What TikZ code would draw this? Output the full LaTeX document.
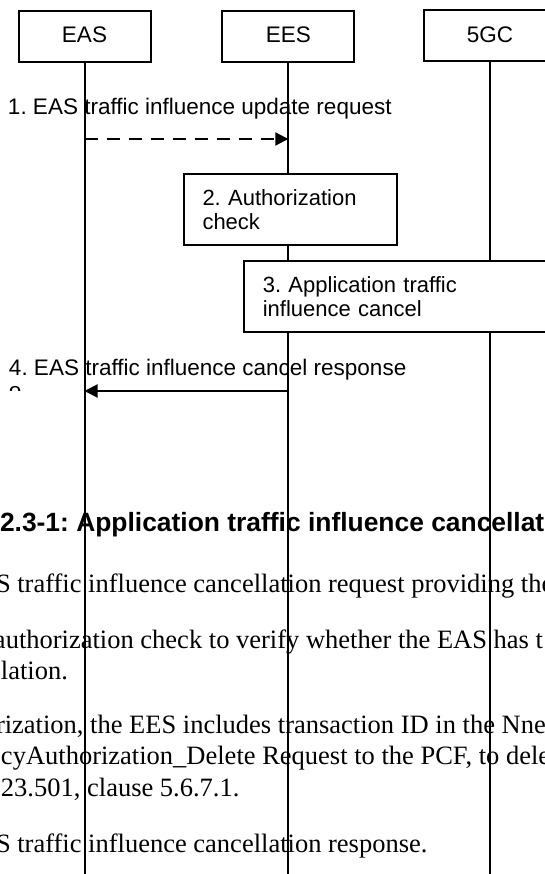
\documentclass[tikz,border=0pt]{standalone}
\usepackage{fontspec}
\setmainfont{Liberation Serif}
\newfontfamily\arial{Liberation Sans}
\usetikzlibrary{arrows.meta}
\frenchspacing
\begin{document}
\begin{tikzpicture}[x=1pt,y=-1pt,
  every node/.style={inner sep=0pt,outer sep=0pt},
  lifeline/.style={line width=2pt},
  entity/.style={draw,line width=2pt,fill=white,minimum width=132pt,minimum height=51pt,
    text height=16pt,text depth=3pt,font=\arial\fontsize{22.5}{26}\selectfont},
  stepbox/.style={draw,line width=2pt,fill=white,align=left,inner xsep=18.5pt,
    minimum height=71pt,font=\arial\fontsize{22}{23.5}\selectfont},
  msg/.style={line width=2pt,-{Triangle[length=13pt,width=13pt]}},
  dashmsg/.style={msg,dash pattern=on 13pt off 9pt},
  msglabel/.style={anchor=base west,font=\arial\fontsize{22.5}{26}\selectfont},
  bodyline/.style={anchor=base west,font=\fontsize{26.5}{31}\selectfont},
  figtitle/.style={anchor=base west,font=\arial\bfseries\fontsize{26.4}{30}\selectfont}
]
\useasboundingbox (0,0) rectangle (545,874);
\clip (0,0) rectangle (545,874);
\fill[white] (0,0) rectangle (545,874);

% caption and body text (behind the lifelines)
\node[figtitle] (ttl) at (0,531.5) {2.3-1: Application traffic influence cancellat};
\node[bodyline] (t1) at (-4,592) {S traffic influence cancellation request providing the};
\node[bodyline] (t2) at (-6,648) {authorization check to verify whether the EAS has t};
\node[bodyline] (t3) at (1,679) {lation.};
\node[bodyline] (t4) at (-4,733.5) {rization, the EES includes transaction ID in the Nne};
\node[bodyline] (t5) at (1,764.5) {cyAuthorization\_Delete Request to the PCF, to dele};
\node[bodyline] (t6) at (1,796.5) {23.501, clause 5.6.7.1.};
\node[bodyline] (t7) at (-4,852) {S traffic influence cancellation response.};

% entities
\node[entity] (eas) at (84.5,36.5) {EAS};
\node[entity] (ees) at (288.3,36.5) {EES};
\node[entity] (gc) at (490,36) {5GC};
\coordinate (bot) at (0,874);

% lifelines
\draw[lifeline] (eas.south) -- (eas.south |- bot);
\draw[lifeline] (ees.south) -- (ees.south |- bot);
\draw[lifeline] (gc.south) -- (gc.south |- bot);

% step boxes
\node[stepbox,anchor=north west,text width=176pt] (auth) at (184,174) {2. Authorization\\check};
\node[stepbox,anchor=north west,text width=283pt] (cancel) at (244.3,261) {3. Application traffic\\influence cancel};

% messages
\coordinate (m1a) at (eas.south |- 0,139);
\coordinate (m1b) at (ees.south |- 0,139);
\draw[dashmsg] (m1a) -- (m1b);
\node[msglabel] (l1) at (8,115) {1. EAS traffic influence update request};

\coordinate (m4a) at (ees.south |- 0,391);
\coordinate (m4b) at (eas.south |- 0,391);
\draw[msg] (m4a) -- (m4b);
\node[msglabel] (l4) at (9,375) {4. EAS traffic influence cancel response};
\begin{scope}
  \clip (0,385) rectangle (40,390.3);
  \node[msglabel] (l4b) at (9,398.5) {o};
\end{scope}
\end{tikzpicture}
\end{document}
